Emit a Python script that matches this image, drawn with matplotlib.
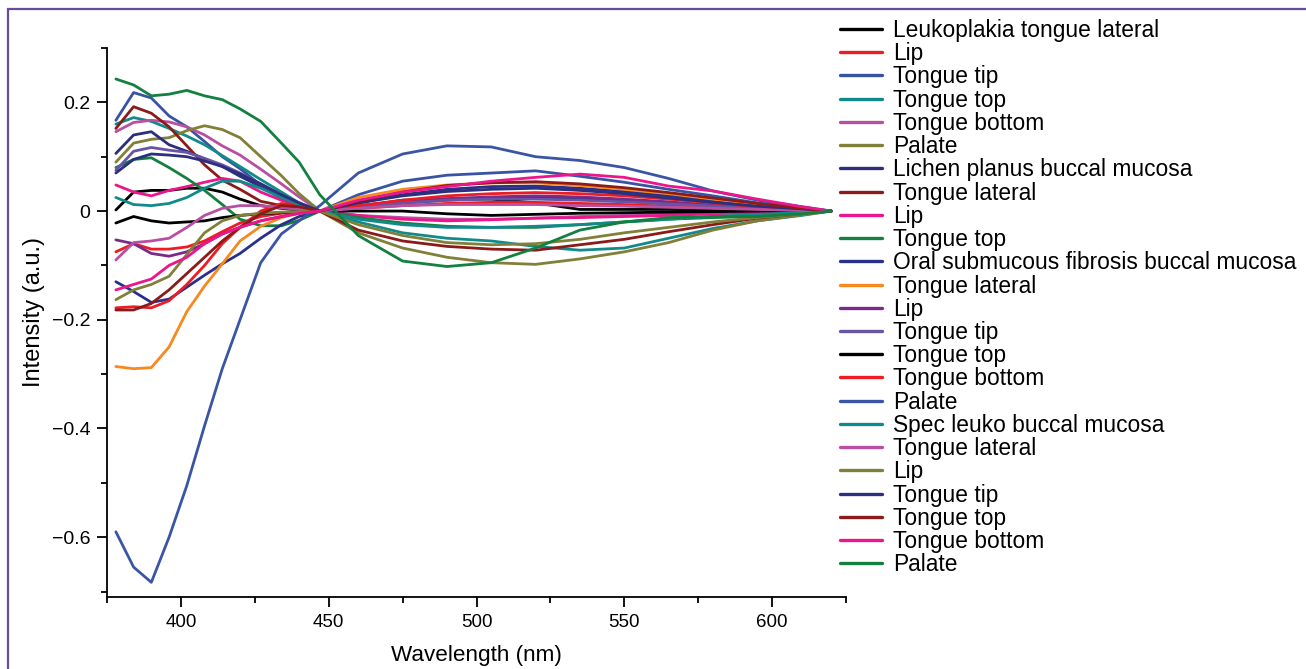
import matplotlib
matplotlib.use("Agg")
import matplotlib.pyplot as plt
from matplotlib.patches import Rectangle
from matplotlib.ticker import MultipleLocator, FuncFormatter

plt.rcParams['font.family'] = ['Liberation Sans', 'DejaVu Sans']

# wavelength grid (nm)
wavelength = [378, 384, 390, 396, 402, 408, 414, 420, 427, 434, 440, 447,
              460, 475, 490, 505, 520, 535, 550, 565, 580, 595, 610, 620]

labels = ["Leukoplakia tongue lateral", "Lip", "Tongue tip", "Tongue top", "Tongue bottom", "Palate",
          "Lichen planus buccal mucosa", "Tongue lateral", "Lip", "Tongue top",
          "Oral submucous fibrosis buccal mucosa", "Tongue lateral", "Lip", "Tongue tip",
          "Tongue top", "Tongue bottom", "Palate", "Spec leuko buccal mucosa", "Tongue lateral",
          "Lip", "Tongue tip", "Tongue top", "Tongue bottom", "Palate"]

colors = ["#000000", "#ed1c24", "#3953a4", "#138a8a", "#b94fa0", "#808038",
          "#2b2f7e", "#8b1a1a", "#ec168c", "#138040", "#2a3089", "#f7891f",
          "#7b2a8a", "#6854a4", "#000000", "#ed1c24", "#3a55a4", "#138a8a",
          "#b94fa0", "#808038", "#2b2f7e", "#8b1a1a", "#ec168c", "#138040"]

s01 = [0.002, 0.035, 0.038, 0.038, 0.042, 0.042, 0.035, 0.022, 0.010, 0.005, 0.002, 0.0,
       0.008, 0.020, 0.022, 0.022, 0.015, 0.003, 0.003, 0.003, 0.002, 0.001, 0.0, 0.0]
s02 = [-0.075, -0.060, -0.070, -0.070, -0.066, -0.055, -0.038, -0.022, -0.010, -0.004, -0.001, 0.0,
       0.005, 0.010, 0.014, 0.016, 0.016, 0.014, 0.012, 0.009, 0.006, 0.003, 0.001, 0.0]
s03 = [0.167, 0.218, 0.208, 0.175, 0.155, 0.128, 0.100, 0.078, 0.048, 0.022, 0.008, 0.0,
       0.030, 0.055, 0.066, 0.070, 0.074, 0.064, 0.053, 0.040, 0.028, 0.015, 0.006, 0.0]
s04 = [0.160, 0.172, 0.165, 0.152, 0.138, 0.122, 0.102, 0.082, 0.058, 0.035, 0.015, 0.0,
       -0.020, -0.040, -0.050, -0.055, -0.065, -0.072, -0.068, -0.050, -0.032, -0.018, -0.008, 0.0]
s05 = [0.146, 0.163, 0.167, 0.164, 0.155, 0.140, 0.120, 0.103, 0.077, 0.050, 0.026, 0.0,
       -0.008, -0.012, -0.015, -0.015, -0.013, -0.010, -0.008, -0.006, -0.004, -0.002, -0.001, 0.0]
s06 = [0.090, 0.125, 0.132, 0.135, 0.148, 0.157, 0.150, 0.135, 0.100, 0.065, 0.032, 0.0,
       -0.040, -0.068, -0.085, -0.095, -0.098, -0.088, -0.075, -0.058, -0.035, -0.018, -0.007, 0.0]
s07 = [0.106, 0.140, 0.146, 0.122, 0.110, 0.096, 0.082, 0.064, 0.045, 0.028, 0.013, 0.0,
       0.008, 0.015, 0.020, 0.024, 0.025, 0.023, 0.019, 0.014, 0.010, 0.006, 0.002, 0.0]
s08 = [0.152, 0.192, 0.180, 0.155, 0.120, 0.085, 0.057, 0.040, 0.018, 0.010, 0.005, 0.0,
       -0.035, -0.055, -0.065, -0.070, -0.072, -0.062, -0.052, -0.038, -0.025, -0.013, -0.005, 0.0]
s09 = [0.048, 0.035, 0.028, 0.038, 0.045, 0.053, 0.060, 0.055, 0.035, 0.020, 0.010, 0.0,
       -0.008, -0.015, -0.018, -0.016, -0.013, -0.012, -0.010, -0.008, -0.005, -0.003, -0.001, 0.0]
s10 = [0.080, 0.095, 0.098, 0.080, 0.060, 0.038, 0.012, -0.015, -0.027, -0.027, -0.017, 0.0,
       -0.012, -0.022, -0.028, -0.030, -0.030, -0.025, -0.020, -0.015, -0.012, -0.010, -0.005, 0.0]
s11 = [-0.130, -0.148, -0.168, -0.162, -0.140, -0.118, -0.097, -0.078, -0.050, -0.025, -0.010, 0.0,
       0.015, 0.030, 0.040, 0.045, 0.046, 0.042, 0.036, 0.028, 0.019, 0.011, 0.004, 0.0]
s12 = [-0.286, -0.290, -0.288, -0.250, -0.185, -0.138, -0.097, -0.055, -0.028, -0.012, -0.004, 0.0,
       0.025, 0.040, 0.048, 0.052, 0.052, 0.047, 0.040, 0.032, 0.022, 0.013, 0.005, 0.0]
s13 = [-0.053, -0.060, -0.078, -0.083, -0.075, -0.060, -0.042, -0.030, -0.018, -0.010, -0.004, 0.0,
       0.010, 0.018, 0.023, 0.026, 0.028, 0.026, 0.022, 0.017, 0.011, 0.006, 0.002, 0.0]
s14 = [0.075, 0.110, 0.117, 0.112, 0.108, 0.097, 0.085, 0.070, 0.050, 0.030, 0.015, 0.0,
       0.008, 0.015, 0.020, 0.022, 0.022, 0.020, 0.017, 0.013, 0.009, 0.005, 0.002, 0.0]
s15 = [-0.022, -0.010, -0.018, -0.022, -0.020, -0.018, -0.012, -0.008, -0.005, -0.003, -0.001, 0.0,
       0.000, 0.000, -0.005, -0.008, -0.006, -0.004, -0.003, -0.002, -0.001, 0.0, 0.0, 0.0]
s16 = [-0.178, -0.176, -0.178, -0.165, -0.135, -0.100, -0.060, -0.030, 0.000, 0.014, 0.010, 0.0,
       0.010, 0.020, 0.028, 0.032, 0.034, 0.032, 0.028, 0.022, 0.015, 0.008, 0.003, 0.0]
s17 = [-0.590, -0.655, -0.683, -0.600, -0.505, -0.395, -0.290, -0.200, -0.095, -0.042, -0.018, 0.010,
       0.070, 0.105, 0.120, 0.118, 0.100, 0.093, 0.080, 0.060, 0.037, 0.020, 0.008, 0.0]
s18 = [0.025, 0.012, 0.010, 0.014, 0.025, 0.042, 0.055, 0.055, 0.042, 0.025, 0.012, 0.0,
       -0.015, -0.025, -0.030, -0.030, -0.028, -0.025, -0.020, -0.015, -0.010, -0.006, -0.003, 0.0]
s19 = [-0.090, -0.058, -0.055, -0.050, -0.030, -0.008, 0.005, 0.010, 0.010, 0.006, 0.003, 0.0,
       0.005, 0.010, 0.012, 0.012, 0.012, 0.010, 0.009, 0.007, 0.005, 0.003, 0.001, 0.0]
s20 = [-0.163, -0.145, -0.135, -0.120, -0.080, -0.040, -0.018, -0.008, -0.004, -0.002, -0.001, 0.0,
       -0.025, -0.045, -0.058, -0.062, -0.060, -0.052, -0.040, -0.030, -0.020, -0.012, -0.005, 0.0]
s21 = [0.070, 0.095, 0.105, 0.103, 0.100, 0.092, 0.082, 0.068, 0.050, 0.030, 0.015, 0.0,
       0.015, 0.028, 0.036, 0.040, 0.042, 0.038, 0.032, 0.024, 0.016, 0.009, 0.004, 0.0]
s22 = [-0.182, -0.182, -0.170, -0.145, -0.115, -0.085, -0.055, -0.030, -0.005, 0.010, 0.008, 0.0,
       0.018, 0.035, 0.047, 0.052, 0.054, 0.050, 0.043, 0.034, 0.024, 0.014, 0.005, 0.0]
s23 = [-0.145, -0.135, -0.125, -0.100, -0.085, -0.060, -0.042, -0.030, -0.018, -0.010, -0.004, 0.0,
       0.020, 0.035, 0.045, 0.055, 0.062, 0.068, 0.062, 0.046, 0.037, 0.022, 0.008, 0.0]
s24 = [0.243, 0.232, 0.212, 0.215, 0.222, 0.212, 0.205, 0.188, 0.165, 0.125, 0.090, 0.030,
       -0.045, -0.092, -0.102, -0.095, -0.068, -0.035, -0.020, -0.012, -0.010, -0.010, -0.005, 0.0]

series = [s01, s02, s03, s04, s05, s06, s07, s08, s09, s10, s11, s12,
          s13, s14, s15, s16, s17, s18, s19, s20, s21, s22, s23, s24]

W, H = 1306, 669
fig = plt.figure(figsize=(W / 100, H / 100), dpi=100)
ax = fig.add_axes([107 / W, 1 - 597 / H, (846 - 107) / W, (597 - 48) / H])

for vals, c, lab in zip(series, colors, labels):
    ax.plot(wavelength, vals, color=c, lw=2.0, label=lab,
            solid_joinstyle='round', solid_capstyle='round')

ax.set_xlim(375, 625)
ax.set_ylim(-0.71, 0.3)
ax.xaxis.set_major_locator(MultipleLocator(50))
ax.xaxis.set_minor_locator(MultipleLocator(25))
ax.yaxis.set_major_locator(MultipleLocator(0.2))
ax.yaxis.set_minor_locator(MultipleLocator(0.1))


def yfmt(v, pos):
    if abs(v) < 1e-9:
        return "0"
    s = f"{v:.1f}"
    return s.replace("-", "\u2212")


ax.yaxis.set_major_formatter(FuncFormatter(yfmt))
ax.xaxis.set_major_formatter(FuncFormatter(lambda v, p: f"{v:.0f}"))
for s in ["top", "right"]:
    ax.spines[s].set_visible(False)
for s in ["left", "bottom"]:
    ax.spines[s].set_linewidth(1.3)
ax.tick_params(which='major', direction='out', length=7, width=1.3, pad=5)
ax.tick_params(which='minor', direction='out', length=4, width=1.3)
ax.tick_params(axis='y', which='major', labelsize=14)
ax.tick_params(axis='x', which='major', labelsize=13.5)
ax.set_xlabel("Wavelength (nm)", fontsize=16.2, labelpad=10)
ax.set_ylabel("Intensity (a.u.)", fontsize=17, labelpad=5)
ax.yaxis.label.set_y(0.52)

leg = fig.legend(loc='upper left', bbox_to_anchor=(840 / W, 1 - 19 / H), frameon=False,
                 fontsize=16.4, handlelength=1.85, handletextpad=0.48, labelspacing=0.01,
                 borderpad=0, borderaxespad=0)
for l in leg.get_lines():
    l.set_linewidth(2.4)

fig.patches.append(Rectangle((8 / W, -0.1), 1.2, 1 - 9 / H + 0.1, transform=fig.transFigure,
                             fill=False, edgecolor="#6a4a9c", lw=1.6, clip_on=False))

fig.savefig("out.png", dpi=100)
